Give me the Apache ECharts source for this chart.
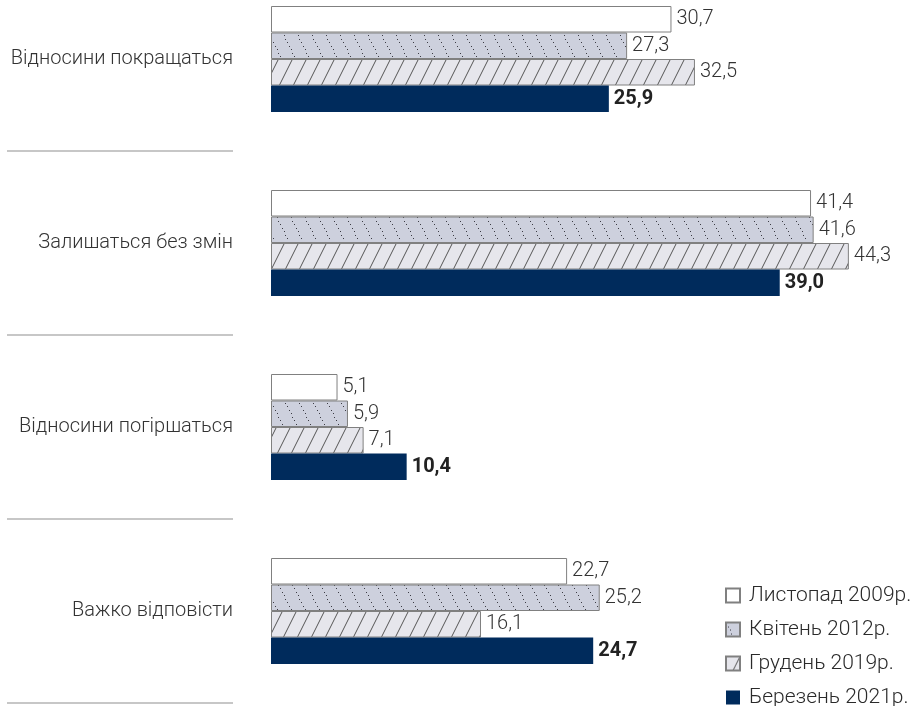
<!DOCTYPE html>
<html>
<head>
<meta charset="utf-8">
<script src="https://cdn.jsdelivr.net/npm/echarts@6/dist/echarts.min.js"></script>
<style>
html,body{margin:0;padding:0;background:#fff;}
#chart{width:913px;height:706px;}
</style>
</head>
<body>
<div id="chart"></div>
<script>
const categories = ['Відносини покращаться', 'Залишаться без змін', 'Відносини погіршаться', 'Важко відповісти'];
const seriesNames = ['Листопад 2009р.', 'Квітень 2012р.', 'Грудень 2019р.', 'Березень 2021р.'];
const nov2009 = [30.7, 41.4, 5.1, 22.7];
const apr2012 = [27.3, 41.6, 5.9, 25.2];
const dec2019 = [32.5, 44.3, 7.1, 16.1];
const mar2021 = [25.9, 39.0, 10.4, 24.7];

function hatchPattern() {
  const c = document.createElement('canvas');
  c.width = 14; c.height = 28;
  const g = c.getContext('2d');
  g.fillStyle = '#e6e6ec';
  g.fillRect(0, 0, 14, 28);
  g.strokeStyle = '#555';
  g.lineWidth = 1;
  for (const off of [-14, 0, 14]) {
    g.beginPath();
    g.moveTo(off, 28);
    g.lineTo(off + 14, 0);
    g.stroke();
  }
  return c;
}
function dotPattern() {
  const c = document.createElement('canvas');
  c.width = 14; c.height = 28;
  const g = c.getContext('2d');
  g.fillStyle = '#cdd0dd';
  g.fillRect(0, 0, 14, 28);
  g.fillStyle = '#3c3c44';
  for (let t = 0; t < 28; t += 3.5) {
    const x = t * 0.5;
    g.fillRect(Math.round(x), Math.round(t), 1, 1);
  }
  return c;
}

const fmt = p => p.value.toFixed(1).replace('.', ',');
const labelBase = { show: true, position: 'right', distance: 5, fontSize: 20, color: '#333', fontFamily: 'Roboto', fontWeight: 300, formatter: fmt };

const chart = echarts.init(document.getElementById('chart'), null, { renderer: 'canvas' });
const mainSeriesData = [nov2009, apr2012, dec2019, mar2021];
const styles = [
  { color: '#ffffff', borderColor: '#808080', borderWidth: 1 },
  { color: { image: dotPattern(), repeat: 'repeat' }, borderColor: '#808080', borderWidth: 1 },
  { color: { image: hatchPattern(), repeat: 'repeat' }, borderColor: '#808080', borderWidth: 1 },
  { color: '#002b5c', borderColor: '#002b5c', borderWidth: 0 }
];

const series = mainSeriesData.map((d, i) => ({
  name: seriesNames[i],
  type: 'bar',
  xAxisIndex: 0,
  yAxisIndex: 0,
  data: d,
  barWidth: 26.5,
  barGap: '0%',
  itemStyle: styles[i],
  label: i === 3 ? Object.assign({}, labelBase, { fontWeight: 'bold', color: '#222' }) : labelBase,
  animation: false
}));

chart.setOption({
  animation: false,
  grid: [
    { left: 271, top: -33, width: 587, height: 736, outerBoundsMode: 'none', containLabel: false },
    { left: 7, top: -33, width: 226, height: 736, outerBoundsMode: 'none', containLabel: false }
  ],
  xAxis: [
    { type: 'value', gridIndex: 0, min: 0, max: 45, show: false },
    { type: 'value', gridIndex: 1, min: 0, max: 1, show: false }
  ],
  yAxis: [
    {
      type: 'category', gridIndex: 0, data: categories, inverse: true,
      axisLine: { show: false }, axisTick: { show: false }, splitLine: { show: false },
      axisLabel: { margin: 38, fontSize: 20, color: '#333', fontFamily: 'Roboto', fontWeight: 300 }
    },
    {
      type: 'category', gridIndex: 1, data: categories, inverse: true,
      axisLine: { show: false }, axisTick: { show: false }, axisLabel: { show: false },
      splitLine: { show: true, lineStyle: { color: '#b4b4b4', width: 1.5 } }
    }
  ],
  legend: {
    orient: 'vertical',
    left: 725, top: 585,
    width: 190, height: 200,
    padding: 0,
    itemWidth: 14, itemHeight: 14, itemGap: 13,
    icon: 'rect',
    data: seriesNames,
    textStyle: { fontSize: 21, lineHeight: 20, color: '#2a2a2a', fontFamily: 'Roboto', fontWeight: 300, padding: [0, 0, 0, 4], overflow: 'none' }
  },
  series: series
});
</script>
</body>
</html>
